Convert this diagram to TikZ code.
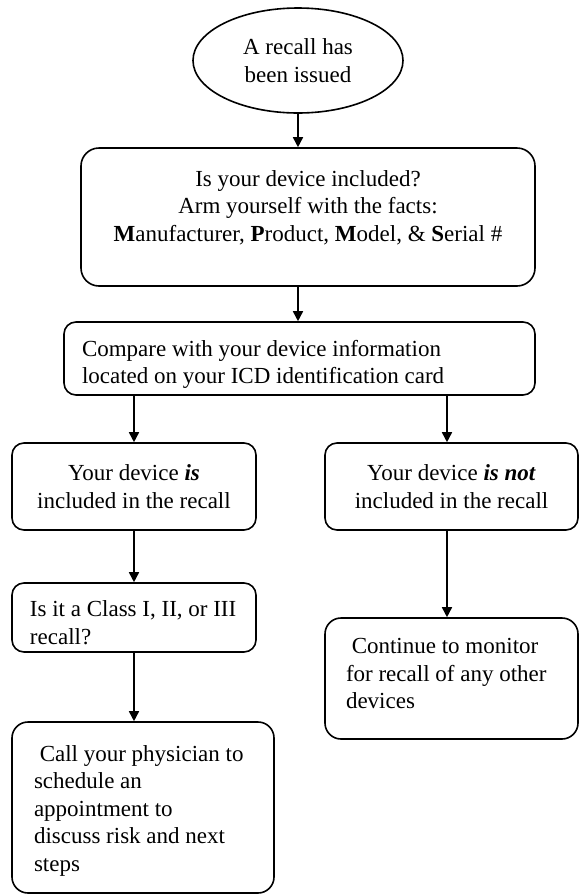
\documentclass[tikz,border=0pt]{standalone}
\usepackage{fontspec}
\setmainfont{Liberation Serif}
\usetikzlibrary{arrows.meta,shapes.geometric}
\tikzset{
    flowbox/.style={draw, line width=0.8pt, rounded corners=6pt, font=\fontsize{11.5}{13.75}\selectfont, inner sep=0pt},
    flowarrow/.style={line width=0.8pt, -{Triangle[length=5pt, width=5pt]}}
}
\begin{document}
\begin{tikzpicture}[x=0.5pt, y=-0.5pt]
            \useasboundingbox (0, 0) rectangle (579, 895);
            \node[flowbox, ellipse, rounded corners=0pt, minimum width=105pt, minimum height=52.5pt, align=center] (start) at (298, 60.5) {A recall has\\been issued};
            \node[flowbox, rounded corners=9pt, minimum width=227pt, minimum height=69pt, align=center] (facts) at (308, 217) {Is your device included?\\Arm yourself with the facts:\\\textbf{M}anufacturer, \textbf{P}roduct, \textbf{M}odel, \& \textbf{S}erial \#\rule[-11pt]{0pt}{0pt}};
            \node[flowbox, minimum width=235.5pt, minimum height=36.5pt, text width=217.5pt, inner xsep=9pt, align=flush left] (compare) at (299.5, 358.5) {\rule{0pt}{14pt}Compare with your device information\\located on your ICD identification card};
            \node[flowbox, minimum width=122pt, minimum height=43.5pt, align=center] (isbox) at (134, 486.5) {Your device \textbf{\textit{is}}\\included in the recall};
            \node[flowbox, minimum width=126.5pt, minimum height=43.5pt, align=center] (notbox) at (451.5, 486.5) {Your device \textbf{\textit{is not}}\\included in the recall};
            \node[flowbox, minimum width=122pt, minimum height=34.5pt, text width=104pt, inner xsep=9pt, align=flush left] (classbox) at (134, 617.5) {\rule{0pt}{13pt}\mbox{Is it a Class I, II, or III}\\recall?};
            \node[flowbox, rounded corners=8pt, minimum width=126.5pt, minimum height=60.5pt, text width=105.5pt, inner xsep=10.5pt, align=flush left] (monitorbox) at (451.5, 678.5) {\ Continue to monitor\\\mbox{for recall of any other}\\devices\rule[-5pt]{0pt}{0pt}};
            \node[flowbox, rounded corners=8pt, minimum width=131pt, minimum height=85.5pt, text width=109pt, inner xsep=11pt, align=flush left] (callbox) at (143, 807.5) {\rule{0pt}{11pt}\ Call your physician to\\schedule an\\appointment to\\discuss risk and next\\steps};
            \draw[flowarrow] (start.south) -- (start.south |- facts.north);
            \draw[flowarrow] (facts.south -| start.south) -- (compare.north -| start.south);
            \draw[flowarrow] (compare.south -| isbox.north) -- (isbox.north);
            \draw[flowarrow] ([xshift=-2.25pt]compare.south -| notbox.north) -- ([xshift=-2.25pt]notbox.north);
            \draw[flowarrow] (isbox.south) -- (classbox.north);
            \draw[flowarrow] ([xshift=-2.25pt]notbox.south) -- ([xshift=-2.25pt]notbox.south |- monitorbox.north);
            \draw[flowarrow] (classbox.south) -- (classbox.south |- callbox.north);
        \end{tikzpicture}
\end{document}
